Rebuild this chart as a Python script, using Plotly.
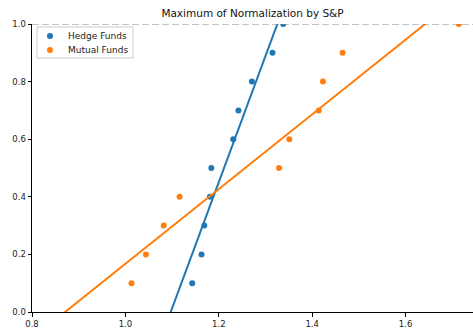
import plotly.graph_objects as go

# Data
hedge_x = [1.143, 1.163, 1.169, 1.181, 1.184, 1.231, 1.242, 1.271, 1.315, 1.338]
hedge_y = [0.1, 0.2, 0.3, 0.4, 0.5, 0.6, 0.7, 0.8, 0.9, 1.0]
mutual_x = [1.013, 1.044, 1.082, 1.116, 1.329, 1.351, 1.414, 1.423, 1.465, 1.714]
mutual_y = [0.1, 0.2, 0.3, 0.4, 0.5, 0.6, 0.7, 0.8, 0.9, 1.0]

# Linear fit parameters (slope, intercept)
hedge_fit = [4.38, -4.805]
mutual_fit = [1.297, -1.1296]

series_names = ["Hedge Funds", "Mutual Funds"]

x_range = [0.8, 1.7443]
y_range = [0.0, 1.0]
x_ticks = [0.8, 1.0, 1.2, 1.4, 1.6]
y_ticks = [0.0, 0.2, 0.4, 0.6, 0.8, 1.0]

BLUE = "#1f77b4"
ORANGE = "#ff7f0e"
FONT = "DejaVu Sans"
W, H = 473, 332
ML, MR, MT, MB = 32, 0, 24, 20
PW, PH = W - ML - MR, H - MT - MB

fig = go.Figure()
fig.add_trace(go.Scatter(x=hedge_x, y=hedge_y, mode="markers", name=series_names[0],
                         marker=dict(color=BLUE, size=6, line=dict(width=0)), cliponaxis=True,
                         showlegend=False))
fig.add_trace(go.Scatter(x=mutual_x, y=mutual_y, mode="markers", name=series_names[1],
                         marker=dict(color=ORANGE, size=6, line=dict(width=0)), cliponaxis=True,
                         showlegend=False))

line_x = [0.6, 1.9]
for fit, col in [(hedge_fit, BLUE), (mutual_fit, ORANGE)]:
    fig.add_trace(go.Scatter(x=line_x, y=[fit[0] * v + fit[1] for v in line_x], mode="lines",
                             line=dict(color=col, width=2), showlegend=False, hoverinfo="skip"))

fig.add_shape(type="line", xref="paper", yref="y", x0=0, x1=1, y0=1.0, y1=1.0,
              line=dict(color="#8a8a8a", width=1.1, dash="7px,3px"), layer="above")


def px_x(p):
    return (p - ML) / PW


def px_y(p):
    return 1 - (p - MT) / PH


# Legend (drawn manually to match the compact matplotlib legend)
fig.add_shape(type="rect", xref="paper", yref="paper", x0=px_x(37), x1=px_x(133),
              y0=px_y(58), y1=px_y(27), line=dict(color="#cccccc", width=1),
              fillcolor="rgba(255,255,255,0.85)", layer="above")
for name, col, py in [(series_names[0], BLUE, 36), (series_names[1], ORANGE, 50)]:
    fig.add_shape(type="circle", xref="paper", yref="paper", xsizemode="pixel", ysizemode="pixel",
                  xanchor=px_x(50), yanchor=px_y(py), x0=-3, x1=3, y0=-3, y1=3,
                  fillcolor=col, line=dict(width=0), layer="above")
    fig.add_annotation(x=px_x(66), y=px_y(py), xref="paper", yref="paper", text=name,
                       showarrow=False, xanchor="left", yanchor="middle",
                       font=dict(family=FONT, size=9, color="#222222"))

axis_common = dict(showgrid=False, zeroline=False, showline=True, linecolor="black", linewidth=1,
                   ticks="outside", ticklen=3.5, tickwidth=1, tickcolor="black",
                   tickfont=dict(family=FONT, size=8.5, color="#222222"), tickformat=".1f")
fig.update_xaxes(range=x_range, tickvals=x_ticks, **axis_common)
fig.update_yaxes(range=y_range, tickvals=y_ticks, **axis_common)

fig.update_layout(
    width=W, height=H,
    margin=dict(l=ML, r=MR, t=MT, b=MB),
    paper_bgcolor="white", plot_bgcolor="white",
    title=dict(text="Maximum of Normalization by S&P", x=(ML + PW / 2) / W, xanchor="center",
               y=1 - 13 / H, yanchor="middle", font=dict(family=FONT, size=10.5, color="#111111")),
    showlegend=False,
)

fig.write_html("out.html")
